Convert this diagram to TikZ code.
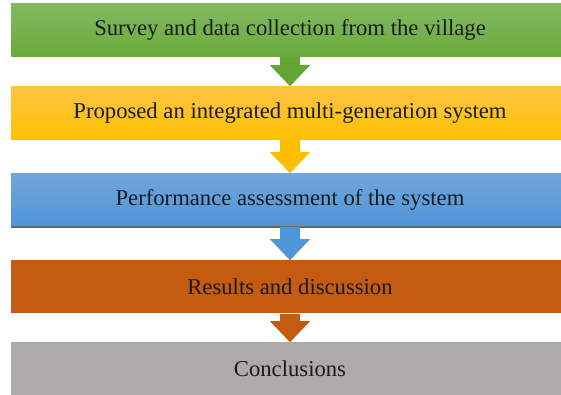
\documentclass[tikz,border=0pt]{standalone}
\usepackage{fontspec}
\setmainfont{Liberation Serif}
\usepackage{tikz}
\usetikzlibrary{calc}

\definecolor{gtop}{HTML}{82BA62}
\definecolor{gbot}{HTML}{69AB3B}
\definecolor{garrow}{HTML}{62A535}
\definecolor{ytop}{HTML}{FFC446}
\definecolor{ybot}{HTML}{FDC100}
\definecolor{btop}{HTML}{72A6DA}
\definecolor{bbot}{HTML}{4E95D9}
\definecolor{rust}{HTML}{C55A11}
\definecolor{stone}{HTML}{AEAAAA}
\definecolor{ink}{HTML}{1A1A1A}

\tikzstyle{stage} = [rectangle, minimum width=418.5pt, minimum height=39.75pt, inner sep=0pt, font=\fontsize{17}{20}\selectfont, text=ink]

% block arrow from one stage to the next
\newcommand{\stagearrow}[3]{%
  \fill[#3] ($(#1.south)+(-10,0)$) -- ($(#1.south)+(10,0)$) -- ($(#2.north)+(10,-21)$)
    -- ($(#2.north)+(20,-21)$) -- (#2.north) -- ($(#2.north)+(-20,-21)$)
    -- ($(#2.north)+(-10,-21)$) -- cycle;}

\begin{document}
\begin{tikzpicture}[x=0.75pt, y=-0.75pt]
        % Bounding box
        \useasboundingbox (0,0) rectangle (561,395);

        % Nodes
        \node[stage, top color=gtop, bottom color=gbot] (survey)  at (290,30)  {Survey and data collection from the village};
        \node[stage, top color=ytop, bottom color=ybot] (propose) at (290,113) {Proposed an integrated multi-generation system};
        \node[stage, top color=btop, bottom color=bbot] (assess)  at (290,200) {Performance assessment of the system};
        \node[stage, fill=rust]                         (results) at (290,287) {Results and discussion};
        \node[stage, fill=stone]                        (concl)   at (290,369) {Conclusions};

        % shadow under the blue bar
        \draw[line width=1.2pt, black!60] (assess.south west) -- (assess.south east);

        % Edges
        \stagearrow{survey}{propose}{garrow}
        \stagearrow{propose}{assess}{ybot!95!orange}
        \stagearrow{assess}{results}{bbot}
        \stagearrow{results}{concl}{rust}

    \end{tikzpicture}
\end{document}
